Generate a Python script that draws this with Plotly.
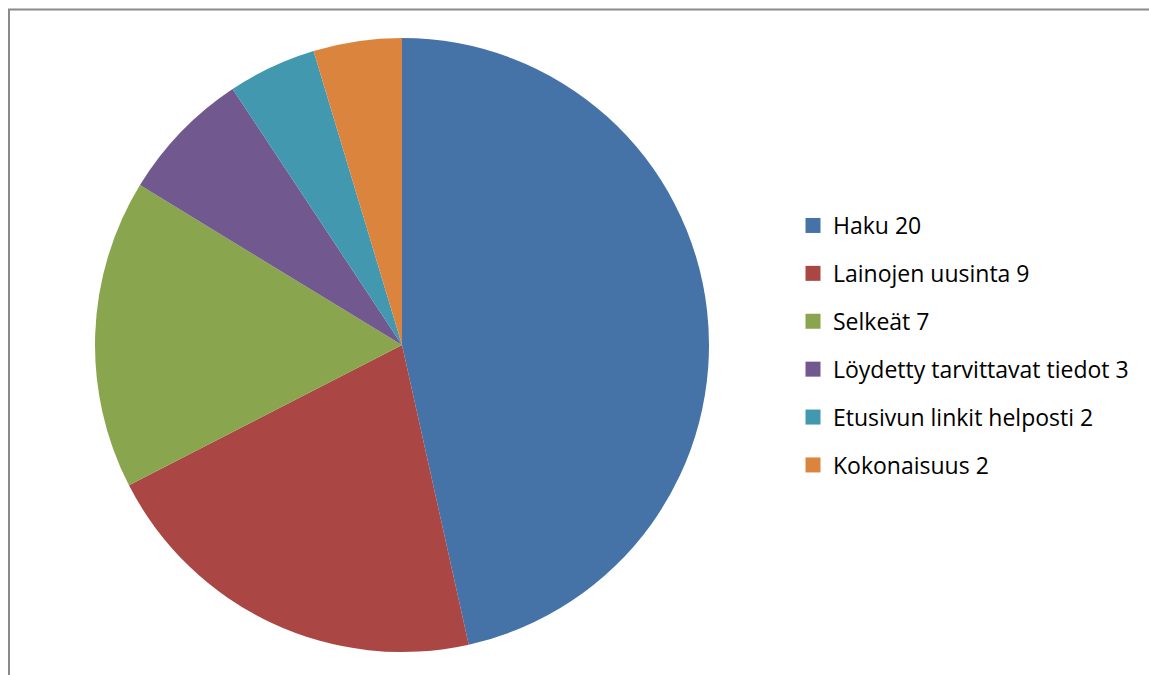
import plotly.graph_objects as go

# Survey answers: what worked well on the site
categories = ["Haku", "Lainojen uusinta", "Selkeät", "Löydetty tarvittavat tiedot",
              "Etusivun linkit helposti", "Kokonaisuus"]
counts = [20, 9, 7, 3, 2, 2]
colors = ["#4572A7", "#AA4643", "#89A54E", "#71588F", "#4198AF", "#DB843D"]

W, H = 1149, 675
legend_labels = [f"{c} {n}" for c, n in zip(categories, counts)]

fig = go.Figure()

fig.add_trace(go.Pie(
    labels=legend_labels,
    values=counts,
    sort=False,
    direction="clockwise",
    rotation=0,
    marker=dict(colors=colors, line=dict(width=0)),
    textinfo="none",
    hoverinfo="label+percent",
    showlegend=False,
    domain=dict(x=[95 / W, 709 / W], y=[23 / H, 637 / H]),
))

# Legend entries: one square swatch per category, each in its own group for spacing
for i, (lab, col) in enumerate(zip(legend_labels, colors)):
    fig.add_trace(go.Scatter(
        x=[None], y=[None], mode="markers", name=lab,
        marker=dict(symbol="square", size=15, color=col),
        legendgroup=f"g{i}", showlegend=True, hoverinfo="skip",
    ))

fig.update_layout(
    width=W, height=H,
    margin=dict(l=0, r=0, t=0, b=0),
    paper_bgcolor="white",
    plot_bgcolor="white",
    xaxis=dict(visible=False),
    yaxis=dict(visible=False),
    font=dict(family="Open Sans, Calibri, sans-serif", size=23, color="black"),
    legend=dict(
        x=793 / W, y=1 - 204 / H, xanchor="left", yanchor="top",
        tracegroupgap=15, itemclick=False, itemdoubleclick=False,
        bgcolor="rgba(0,0,0,0)", font=dict(size=23),
    ),
    shapes=[dict(
        type="rect", xref="paper", yref="paper",
        x0=9 / W, x1=1.02, y0=-0.02, y1=1 - 9.5 / H,
        line=dict(color="#8a8a8a", width=2), fillcolor="rgba(0,0,0,0)", layer="above",
    )],
)

fig.write_html("out.html")
